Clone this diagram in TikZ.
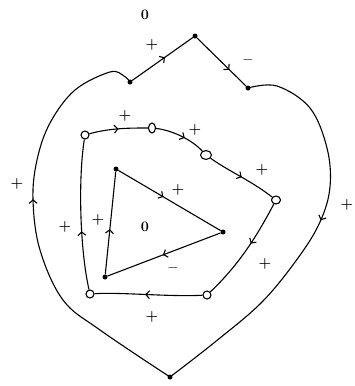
\documentclass[tikz,border=0pt]{standalone}
\usetikzlibrary{arrows.meta,decorations.markings,shapes.geometric}
\tikzset{
 edge/.style={line width=1.1pt},
 arrat/.style={postaction={decorate},decoration={markings,mark=at position #1 with {\arrow{Straight Barb[length=3.5pt,width=8pt,line width=1.1pt]}}}},
 fdot/.style={circle,fill,inner sep=0pt,minimum size=5pt},
 odot/.style={ellipse,draw,line width=1.1pt,fill=white,inner sep=0pt,minimum width=8pt,minimum height=8pt},
 lab/.style={font=\Large\bfseries,inner sep=0pt}
}
\begin{document}
\begin{tikzpicture}[x=1pt,y=-1pt]
\useasboundingbox (0,0) rectangle (355,386);
% outer vertices
\node[fdot] (L) at (130,82) {};
\node[fdot] (P) at (195,36) {};
\node[fdot] (R) at (248,88) {};
\node[fdot] (B) at (170,377) {};
% middle polygon vertices
\node[odot] (m1) at (85,135) {};
\node[odot,minimum width=7pt,minimum height=10pt] (m2) at (152,128) {};
\node[odot,minimum width=11pt,minimum height=9pt] (m3) at (206,155) {};
\node[odot,minimum width=9pt] (m4) at (276,200) {};
\node[odot] (m5) at (207,295) {};
\node[odot] (m6) at (90,294) {};
% triangle vertices
\node[fdot] (tA) at (116,169) {};
\node[fdot] (tB) at (223,232) {};
\node[fdot] (tC) at (105,277) {};
% outer edges
\draw[edge,arrat=0.54] (L) -- (P);
\draw[edge,arrat=0.66] (P) -- (R);
\draw[edge,arrat=0.46] plot[smooth,tension=0.6] coordinates {(R) (277,86) (310,108) (327,148) (330,187) (320,222) (298,258) (262,302) (215,342) (B)};
\draw[edge,arrat=0.565] plot[smooth,tension=0.6] coordinates {(B) (100,330) (63,300) (40,250) (33,200) (37,160) (50,123) (75,90) (110,72) (124,76) (L)};
% middle edges
\draw[edge,arrat=0.5] (m1) .. controls (110,128) and (130,128) .. (m2);
\draw[edge,arrat=0.58] (m2) .. controls (170,130) and (190,138) .. (m3);
\draw[edge,arrat=0.5] (m3) .. controls (230,172) and (250,180) .. (m4);
\draw[edge,arrat=0.42] (m4) .. controls (260,230) and (242,262) .. (m5);
\draw[edge,arrat=0.53] (m5) .. controls (170,297) and (120,292) .. (m6);
\draw[edge,arrat=0.39] (m6) .. controls (80,250) and (78,180) .. (m1);
% triangle edges
\draw[edge,arrat=0.44] (tA) -- (tB);
\draw[edge,arrat=0.51] (tB) -- (tC);
\draw[edge,arrat=0.44] (tC) -- (tA);
% labels
\node[lab] (z1) at (145,15) {0};
\node[lab] (z2) at (145,227) {0};
\node[lab] (l1) at (152,45) {+};
\node[lab] (l2) at (248,60) {$-$};
\node[lab] (l3) at (17,184) {+};
\node[lab] (l4) at (347,205) {+};
\node[lab] (l5) at (125,116) {+};
\node[lab] (l6) at (195,130) {+};
\node[lab] (l7) at (262,170) {+};
\node[lab] (l8) at (265,264) {+};
\node[lab] (l9) at (152,317) {+};
\node[lab] (l10) at (65,227) {+};
\node[lab] (l11) at (178,190) {+};
\node[lab] (l12) at (173,268) {$-$};
\node[lab] (l13) at (98,220) {+};
\end{tikzpicture}
\end{document}
